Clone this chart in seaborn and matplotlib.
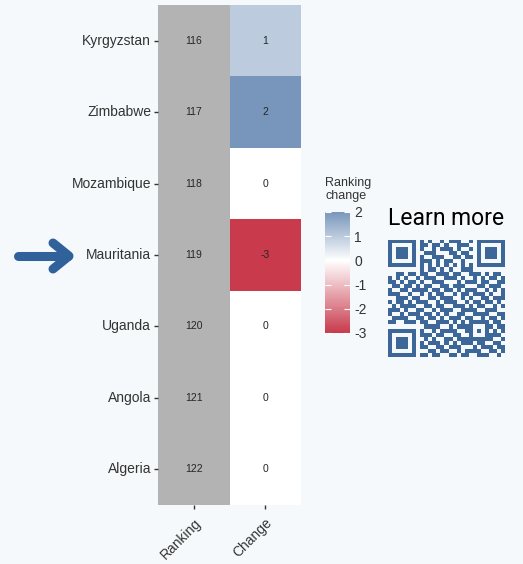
import numpy as np
import pandas as pd
import seaborn as sns
import matplotlib.pyplot as plt
from matplotlib.colors import LinearSegmentedColormap, ListedColormap
from matplotlib.lines import Line2D

# DATA
countries = ["Kyrgyzstan", "Zimbabwe", "Mozambique", "Mauritania", "Uganda", "Angola", "Algeria"]
ranking = [116, 117, 118, 119, 120, 121, 122]
change = [1, 2, 0, -3, 0, 0, 0]
columns = ["Ranking", "Change"]
change_ticks = [-3, -2, -1, 0, 1, 2]

# QR code body (finder / timing / alignment patterns overlaid below)
qr_rows = [
    "11010 01110 10010 11100 10110 1001",
    "01101 10011 01101 00111 01001 1010",
    "10110 11010 01011 10100 11011 0101",
    "00111 01101 11000 11011 00101 1100",
    "11001 10110 01110 01101 11010 0111",
    "01110 01011 10101 10010 01101 1011",
    "10011 11100 01101 01111 00110 0101",
    "11101 00110 11010 10011 10011 1010",
    "00110 11011 00111 01100 11101 0110",
    "10101 01101 11001 11010 01010 1101",
    "11010 10010 01110 00101 11011 0011",
    "01101 11101 10011 01110 00110 1110",
    "10011 00111 01101 10101 11001 0101",
    "11100 11010 10110 01011 01110 1001",
    "00111 01100 11011 10010 10011 0111",
    "10110 10111 00101 11001 01101 1010",
    "01011 11001 10110 01110 10110 0101",
    "11101 00110 01011 10011 11001 1100",
    "10010 11101 10101 00110 01111 0011",
    "01111 00110 11010 11101 10010 1101",
    "11001 11011 00111 01010 11101 0110",
    "00110 10101 11100 10111 00110 1011",
    "10101 01110 01011 11001 10011 0101",
    "11011 10011 10110 01100 11010 1110",
    "01100 11101 01001 10111 01101 1001",
    "10111 00110 11101 01011 10110 0110",
    "11010 11011 00110 11100 01011 1011",
    "00111 01100 11011 00101 11100 1101",
    "10101 10111 01100 11011 00111 0010",
]

BG = "#f6f9fb"
BLUE = "#30619a"
TXT = "#333333"
W, H = 523, 564

plt.rcParams["axes.unicode_minus"] = False
plt.rcParams["font.family"] = ["Liberation Sans", "DejaVu Sans"]


def fx(px):
    return px / W


def fy(py):
    return 1 - py / H


def qr_matrix():
    m = np.array([[int(c) for c in r.replace(" ", "")] for r in qr_rows])
    n = m.shape[0]
    finder = np.ones((7, 7), int)
    finder[1:6, 1:6] = 0
    finder[2:5, 2:5] = 1
    for r0, c0 in [(0, 0), (0, n - 7), (n - 7, 0)]:
        m[r0:r0 + 7, c0:c0 + 7] = finder
    # separators
    m[7, 0:8] = 0
    m[0:8, 7] = 0
    m[7, n - 8:] = 0
    m[0:8, n - 8] = 0
    m[n - 8, 0:8] = 0
    m[n - 8:, 7] = 0
    m[6, 8:n - 8] = (np.arange(8, n - 8) + 1) % 2
    m[8:n - 8, 6] = (np.arange(8, n - 8) + 1) % 2
    align = np.ones((5, 5), int)
    align[1:4, 1:4] = 0
    align[2, 2] = 1
    m[n - 9:n - 4, n - 9:n - 4] = align
    return m


df = pd.DataFrame({"Ranking": ranking, "Change": change}, index=countries)

fig = plt.figure(figsize=(W / 100, H / 100), dpi=100, facecolor=BG)
ax = fig.add_axes([fx(158), fy(505), fx(301) - fx(158), fy(5) - fy(505)])
ax.set_facecolor(BG)
cax = fig.add_axes([fx(325), fy(333), fx(350) - fx(325), fy(212) - fy(333)])

annot_kws = {"fontsize": 7.5, "color": "#262626"}

# gray ranking column
mask_rank = np.zeros(df.shape, bool)
mask_rank[:, 1] = True
sns.heatmap(df, mask=mask_rank, cmap=ListedColormap(["#b3b3b3"]), annot=True, fmt="d",
            annot_kws=annot_kws, cbar=False, ax=ax)

# change column, white at 0 on a linear -3..2 scale
vmin, vmax = min(change_ticks), max(change_ticks)
mid = (0 - vmin) / (vmax - vmin)
cmap = LinearSegmentedColormap.from_list(
    "chg", [(0, "#c83a4c"), (mid, "#ffffff"), (1, "#7896bb")])
mask_chg = np.zeros(df.shape, bool)
mask_chg[:, 0] = True
sns.heatmap(df, mask=mask_chg, cmap=cmap, vmin=vmin, vmax=vmax, annot=True, fmt="d",
            annot_kws=annot_kws, cbar=True, cbar_ax=cax, ax=ax)

ax.set_xlabel("")
ax.set_ylabel("")
ax.set_yticklabels(countries, rotation=0, fontsize=10, color=TXT)
ax.set_xticklabels(columns, rotation=45, ha="right", rotation_mode="anchor", fontsize=10, color=TXT)
ax.tick_params(axis="y", length=3, width=1, color=TXT, pad=2)
ax.tick_params(axis="x", length=3, width=1, color=TXT, pad=5)

# colorbar styling
cb = ax.collections[-1].colorbar
cb.set_ticks(change_ticks)
cb.outline.set_visible(False)
cax.tick_params(axis="y", left=True, right=True, direction="in", length=4, colors="white",
                labelcolor=TXT, labelsize=10, pad=3)
fig.text(fx(325), fy(177), "Ranking\nchange", fontsize=9, color=TXT, ha="left", va="top",
         linespacing=1.15)

# learn more + QR
fig.text(fx(388), fy(218), "Learn more", fontsize=16.5, family=["Roboto", "DejaVu Sans"],
         color="black", ha="left", va="center")
qax = fig.add_axes([fx(388), fy(357), fx(117), fx(117) * W / H])
qax.imshow(qr_matrix(), cmap=ListedColormap([BG, "#3d6699"]), interpolation="nearest", aspect="auto")
qax.axis("off")

# arrow pointing at the highlighted country
yi = fy(256)
fig.add_artist(Line2D([fx(18), fx(68)], [yi, yi], transform=fig.transFigure, lw=6.5,
                      color=BLUE, solid_capstyle="round"))
fig.add_artist(Line2D([fx(53), fx(69), fx(53)], [fy(243), yi, fy(269)], transform=fig.transFigure,
                      lw=6.5, color=BLUE, solid_capstyle="round", solid_joinstyle="round"))

fig.savefig("out.png", dpi=100, facecolor=BG)
